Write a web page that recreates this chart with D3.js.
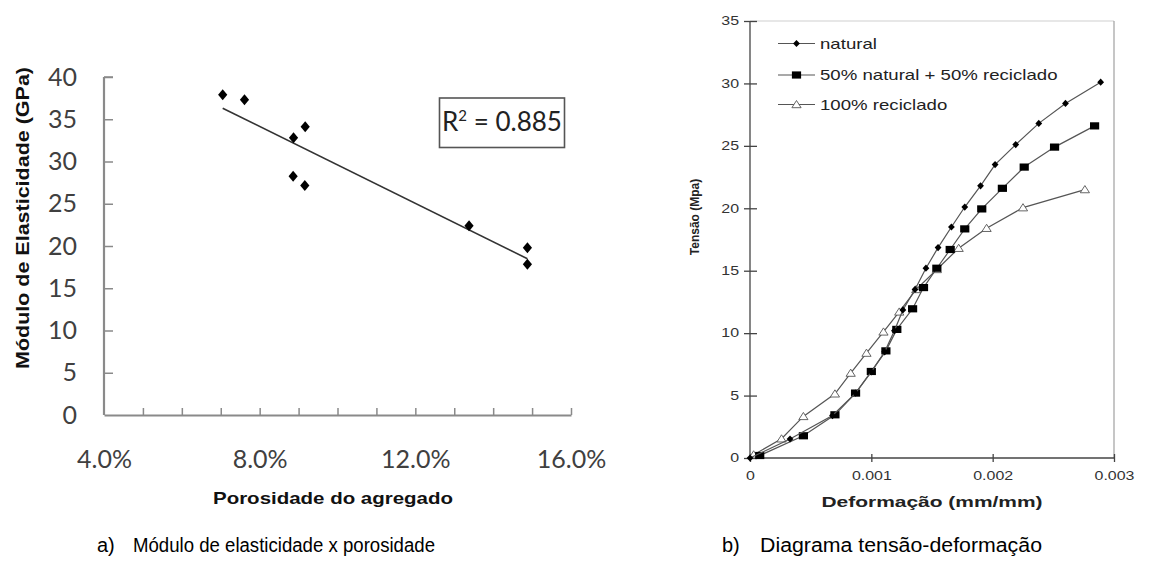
<!DOCTYPE html>
<html>
<head>
<meta charset="utf-8">
<script src="https://cdn.jsdelivr.net/npm/d3@7"></script>
<style>
  html, body { margin: 0; padding: 0; background: #fff; }
  svg { display: block; }
</style>
</head>
<body>
<svg id="fig" width="1156" height="567"></svg>
<script>
// ---- chart a) modulus vs porosity
const porosity = [7.05, 7.61, 8.87, 9.17, 8.86, 9.16, 13.38, 14.88, 14.88];
const modulus = [37.9, 37.3, 32.8, 34.1, 28.25, 27.15, 22.4, 19.8, 17.85];
const porTicks = [4, 5, 6, 7, 8, 9, 10, 11, 12, 13, 14, 15, 16];
const porLabels = [4, 8, 12, 16];
const modTicks = [0, 5, 10, 15, 20, 25, 30, 35, 40];
const r2Label = "0.885";

// ---- chart b) stress-strain
const natStrain = [0, 0.00033, 0.00068, 0.00087, 0.001, 0.00111, 0.00119, 0.00126, 0.00136, 0.00145, 0.00155, 0.00166, 0.00177, 0.0019, 0.00202, 0.00219, 0.00238, 0.0026, 0.00289];
const natStress = [0, 1.52, 3.4, 5.2, 6.9, 8.5, 10.2, 11.86, 13.5, 15.2, 16.85, 18.5, 20.1, 21.8, 23.5, 25.1, 26.8, 28.4, 30.1];
const mixStrain = [0.00008, 0.00044, 0.0007, 0.00087, 0.001, 0.00112, 0.00121, 0.00134, 0.00143, 0.00154, 0.00165, 0.00177, 0.00191, 0.00208, 0.00226, 0.00251, 0.00284];
const mixStress = [0.2, 1.78, 3.46, 5.2, 6.93, 8.58, 10.3, 11.95, 13.65, 15.2, 16.7, 18.35, 19.95, 21.6, 23.3, 24.9, 26.6];
const recStrain = [0.00003, 0.00026, 0.00044, 0.0007, 0.00083, 0.00096, 0.0011, 0.00123, 0.00137, 0.00154, 0.00172, 0.00195, 0.00225, 0.00276];
const recStress = [0.26, 1.54, 3.33, 5.14, 6.8, 8.4, 10.1, 11.7, 13.5, 15.1, 16.8, 18.4, 20.05, 21.5];
const seriesNames = ["natural", "50% natural + 50% reciclado", "100% reciclado"];
const strainTicks = [0, 0.001, 0.002, 0.003];
const stressTicks = [0, 5, 10, 15, 20, 25, 30, 35];

const svg = d3.select("#fig");
const SX = 1.33; // right-hand figure is stretched sideways

// ================= chart a =================
const ga = svg.append("g");
const xA = d3.scaleLinear().domain([4, 16]).range([104, 571]);
const yA = d3.scaleLinear().domain([0, 40]).range([415, 77]);
const gridGrey = "#8a8a8a";
const labGrey = "#404040";

const axA = ga.append("g")
  .attr("transform", "translate(0,415)")
  .call(d3.axisBottom(xA).tickValues(porTicks).tickSizeInner(-7).tickSizeOuter(0).tickPadding(44)
    .tickFormat(d => porLabels.includes(d) ? d.toFixed(1) + "%" : ""));
const ayA = ga.append("g")
  .attr("transform", "translate(104,0)")
  .call(d3.axisLeft(yA).tickValues(modTicks).tickSizeInner(-9).tickSizeOuter(0).tickPadding(27));
[axA, ayA].forEach(g => {
  g.select(".domain").attr("stroke", gridGrey).attr("stroke-width", 2.2);
  g.selectAll(".tick line").attr("stroke", gridGrey).attr("stroke-width", 1.5);
  g.selectAll(".tick text").attr("fill", labGrey)
    .style("font-family", "Lato, 'Open Sans', sans-serif").style("font-size", "25px");
});
axA.selectAll(".tick line").filter(d => d === 4).remove();
ayA.selectAll(".tick line").filter(d => d === 0).remove();
ayA.select(".domain").attr("d", `M0,${yA(40)}H0V${yA(0)}`);
ayA.append("line").attr("x1", 0).attr("x2", 9).attr("y1", yA(40)).attr("y2", yA(40))
  .attr("stroke", gridGrey).attr("stroke-width", 1.5);
axA.selectAll(".tick text").attr("dy", "0.35em");

// regression line
const meanX = d3.mean(porosity), meanY = d3.mean(modulus);
const slope = d3.sum(porosity, (p, i) => (p - meanX) * (modulus[i] - meanY)) /
              d3.sum(porosity, p => (p - meanX) ** 2);
const icpt = meanY - slope * meanX;
const [x0, x1] = d3.extent(porosity);
ga.append("line")
  .attr("x1", xA(x0)).attr("y1", yA(icpt + slope * x0))
  .attr("x2", xA(x1)).attr("y2", yA(icpt + slope * x1))
  .attr("stroke", "#333").attr("stroke-width", 1.6);

ga.selectAll("path.pt").data(porosity).enter().append("path")
  .attr("class", "pt")
  .attr("d", "M0,-5.5L4.6,0L0,5.5L-4.6,0Z")
  .attr("transform", (d, i) => `translate(${xA(d)},${yA(modulus[i])})`)
  .attr("fill", "#000");

// R² box
ga.append("rect").attr("x", 439.5).attr("y", 98).attr("width", 125).attr("height", 49.5)
  .attr("fill", "#fff").attr("stroke", "#555").attr("stroke-width", 1.6);
const r2 = ga.append("text").attr("x", 502).attr("y", 131).attr("text-anchor", "middle")
  .attr("fill", "#222").style("font-family", "Lato, sans-serif").style("font-size", "26px");
r2.append("tspan").text("R");
r2.append("tspan").attr("dy", -10).style("font-size", "15px").text("2");
r2.append("tspan").attr("dy", 10).text(" = " + r2Label);

const boldA = "'Liberation Sans', Arial, sans-serif";
ga.append("text").attr("x", 333).attr("y", 504).attr("text-anchor", "middle")
  .attr("textLength", 240).attr("lengthAdjust", "spacingAndGlyphs")
  .style("font-family", boldA).style("font-weight", "bold")
  .style("font-size", "17px").attr("fill", "#111").text("Porosidade do agregado");
ga.append("text").attr("transform", "translate(29,218) rotate(-90)").attr("text-anchor", "middle")
  .attr("textLength", 302).attr("lengthAdjust", "spacingAndGlyphs")
  .style("font-family", boldA).style("font-weight", "bold")
  .style("font-size", "18px").attr("fill", "#111").text("Módulo de Elasticidade (GPa)");

// ================= chart b =================
const gb = svg.append("g");
const xB = d3.scaleLinear().domain([0, 0.003]).range([750, 1114]);
const yB = d3.scaleLinear().domain([0, 35]).range([458, 21]);
const axisDark = "#444";
const fontB = "'Liberation Sans', Arial, sans-serif";

// light frame on top and right
gb.append("line").attr("x1", xB(0)).attr("x2", xB(0.003)).attr("y1", yB(35)).attr("y2", yB(35))
  .attr("stroke", "#cfcfcf").attr("stroke-width", 1.2);
gb.append("line").attr("x1", xB(0.003)).attr("x2", xB(0.003)).attr("y1", yB(35)).attr("y2", yB(0))
  .attr("stroke", "#a0a0a0").attr("stroke-width", 1.2);

const axB = gb.append("g").attr("transform", `translate(0,${yB(0)})`)
  .call(d3.axisBottom(xB).tickValues(strainTicks).tickSize(4).tickPadding(9)
    .tickFormat(d => d === 0 ? "0" : d3.format(".3f")(d)));
const ayB = gb.append("g").attr("transform", `translate(${xB(0)},0)`)
  .call(d3.axisLeft(yB).tickValues(stressTicks).tickSize(6).tickPadding(11));
[axB, ayB].forEach(g => {
  g.select(".domain").attr("stroke", axisDark).attr("stroke-width", 1.3);
  g.selectAll(".tick line").attr("stroke", axisDark).attr("stroke-width", 1.3);
  g.selectAll(".tick text").attr("fill", "#333")
    .style("font-family", fontB).style("font-size", "12px");
});
axB.select(".domain").attr("d", `M${xB(0)},0H${xB(0.003)}`);
axB.selectAll(".tick line").attr("y1", -4).attr("y2", 4);
ayB.select(".domain").attr("d", `M0,${yB(0)}V${yB(35)}`);
ayB.selectAll(".tick line").attr("x1", -6).attr("x2", 7);
axB.selectAll(".tick text").attr("transform", `scale(${SX},1)`);
ayB.selectAll(".tick text").attr("x", -11 / SX).attr("transform", `scale(${SX},1)`);

const series = [
  { name: seriesNames[0], xs: natStrain, ys: natStress, mark: "M0,-3.6L3.4,0L0,3.6L-3.4,0Z", fill: "#000" },
  { name: seriesNames[1], xs: mixStrain, ys: mixStress, mark: "M-4.6,-3.6H4.6V3.6H-4.6Z", fill: "#000" },
  { name: seriesNames[2], xs: recStrain, ys: recStress, mark: "M0,-4L4.6,3.2H-4.6Z", fill: "#fff" }
];
const line = d3.line().x(d => xB(d[0])).y(d => yB(d[1]));
series.slice().reverse().forEach(s => {
  const pts = s.xs.map((v, i) => [v, s.ys[i]]);
  gb.append("path").datum(pts).attr("d", line)
    .attr("fill", "none").attr("stroke", "#555").attr("stroke-width", 1.2);
  gb.selectAll(null).data(pts).enter().append("path")
    .attr("d", s.mark)
    .attr("transform", d => `translate(${xB(d[0])},${yB(d[1])})`)
    .attr("fill", s.fill).attr("stroke", s.fill === "#fff" ? "#555" : "none").attr("stroke-width", 0.9);
});

// legend
const legY = [43.5, 75, 104.5];
series.forEach((s, i) => {
  const lg = gb.append("g").attr("transform", `translate(778,${legY[i]})`);
  lg.append("line").attr("x1", 0).attr("x2", 37).attr("stroke", "#555").attr("stroke-width", 1.2);
  lg.append("path").attr("d", s.mark).attr("transform", "translate(18.5,0)")
    .attr("fill", s.fill).attr("stroke", s.fill === "#fff" ? "#555" : "none").attr("stroke-width", 0.9);
  lg.append("text").attr("transform", `translate(42,5) scale(${SX},1)`)
    .style("font-family", fontB).style("font-size", "14px").attr("fill", "#222").text(s.name);
});

gb.append("text").attr("transform", `translate(932,507) scale(${SX},1)`).attr("text-anchor", "middle")
  .attr("textLength", 221 / SX).attr("lengthAdjust", "spacingAndGlyphs")
  .style("font-family", fontB).style("font-weight", "bold").style("font-size", "15px")
  .attr("fill", "#222").text("Deformação (mm/mm)");
gb.append("text").attr("transform", "translate(699,217) rotate(-90)").attr("text-anchor", "middle")
  .style("font-family", fontB).style("font-weight", "bold").style("font-size", "12px")
  .attr("fill", "#222").text("Tensão (Mpa)");

// ================= captions =================
const capStyle = t => t.style("font-family", fontB).style("font-size", "20px").attr("fill", "#000");
capStyle(svg.append("text").attr("x", 97).attr("y", 552).text("a)"));
capStyle(svg.append("text").attr("x", 133).attr("y", 552)
  .attr("textLength", 302).attr("lengthAdjust", "spacingAndGlyphs").text("Módulo de elasticidade x porosidade"));
capStyle(svg.append("text").attr("x", 722).attr("y", 552).text("b)"));
capStyle(svg.append("text").attr("x", 760).attr("y", 552)
  .attr("textLength", 282).attr("lengthAdjust", "spacingAndGlyphs").text("Diagrama tensão-deformação"));
</script>
</body>
</html>
